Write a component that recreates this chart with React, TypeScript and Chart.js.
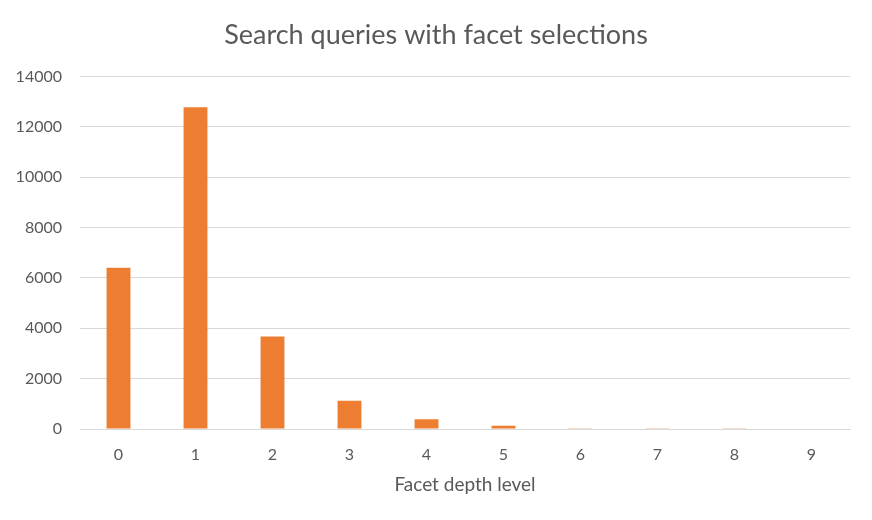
import { useEffect, useRef } from 'react';
import Chart from 'chart.js/auto';

// Facet depth histogram, Excel-style single series.
const DEPTHS = ['0', '1', '2', '3', '4', '5', '6', '7', '8', '9'];
const QUERIES = [6400, 12780, 3670, 1120, 385, 130, 30, 25, 25, 20];
const TEXT = '#595959';
const GRID = '#d9d9d9';
const FONT = "Lato, 'Open Sans', sans-serif";

export default function App() {
  const ref = useRef<HTMLCanvasElement | null>(null);

  useEffect(() => {
    document.body.style.margin = '0';
    const ctx = ref.current;
    if (!ctx) return;

    const chart = new Chart(ctx, {
      type: 'bar',
      data: {
        labels: DEPTHS,
        datasets: [
          {
            label: 'Queries',
            data: QUERIES,
            backgroundColor: '#ed7d31',
            categoryPercentage: 1,
            barPercentage: 0.31,
          },
        ],
      },
      options: {
        animation: false,
        responsive: true,
        maintainAspectRatio: false,
        layout: { padding: { left: 11, right: 11, top: 6, bottom: 20 } },
        scales: {
          x: {
            grid: { display: false, drawTicks: false },
            border: { color: GRID, width: 1 },
            ticks: { color: TEXT, font: { family: FONT, size: 16 }, padding: 16 },
            title: {
              display: true,
              text: 'Facet depth level',
              color: TEXT,
              font: { family: FONT, size: 19 },
              padding: { top: -7 },
            },
          },
          y: {
            min: 0,
            max: 14000,
            ticks: {
              stepSize: 2000,
              color: TEXT,
              font: { family: FONT, size: 16 },
              padding: 18,
              callback: (v) => String(v),
            },
            grid: { color: GRID, drawTicks: false },
            border: { display: false },
            afterFit: (s) => {
              s.width = 69;
            },
          },
          // empty right gutter so the title stays centred on the page
          pad: {
            position: 'right',
            grid: { display: false, drawTicks: false },
            ticks: { display: false },
            border: { display: false },
            afterFit: (s) => {
              s.width = 11;
            },
          },
        },
        plugins: {
          legend: { display: false },
          tooltip: { enabled: false },
          title: {
            display: true,
            text: 'Search queries with facet selections',
            color: TEXT,
            font: { family: FONT, size: 27, weight: 'normal' },
            padding: { top: 13, bottom: 25 },
          },
        },
      },
    });

    return () => chart.destroy();
  }, []);

  return (
    <div style={{ position: 'relative', width: 872, height: 520, background: '#fff' }}>
      <canvas ref={ref} />
    </div>
  );
}
